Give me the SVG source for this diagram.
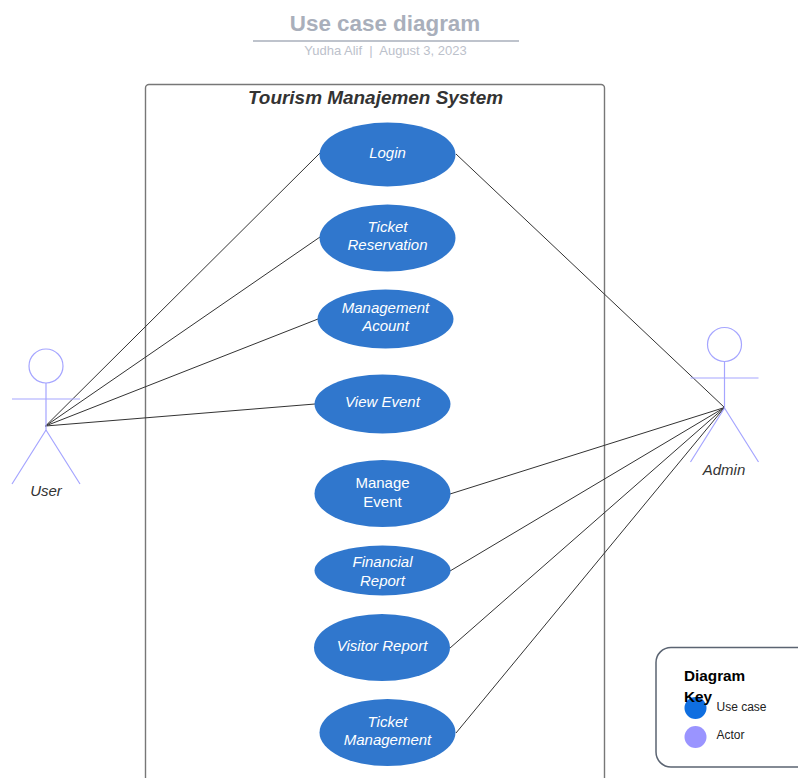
<svg xmlns="http://www.w3.org/2000/svg" width="798" height="778" viewBox="0 0 798 778">
<style>
text{font-family:"Liberation Sans",Arial,sans-serif}
.uc ellipse{fill:#3077cd}
.uc text{fill:#fff;font-size:15px;font-style:italic;text-anchor:middle}
.uc text.plain{font-style:normal}
.actor circle,.actor path{fill:none;stroke:#a5a5ff;stroke-width:1.2}
.actor text{fill:#333;font-size:15px;font-style:italic;text-anchor:middle}
#connectors line{stroke:#333;stroke-width:1}
</style>
<rect width="798" height="778" fill="#fff"/>
<g id="title">
<text x="385" y="30.500" font-size="22.400" font-weight="bold" fill="#a9afbb" text-anchor="middle">Use case diagram</text>
<line x1="253" y1="41" x2="519" y2="41" stroke="#a9afbb" stroke-width="1.5"/>
<text x="385.500" y="55" font-size="13" fill="#bcc1cb" text-anchor="middle" xml:space="preserve">Yudha Alif  |  August 3, 2023</text>
</g>
<g id="system">
<path d="M145.500 778V88a3.500 3.500 0 0 1 3.500-3.500H601a3.500 3.500 0 0 1 3.500 3.500V778" fill="none" stroke="#777" stroke-width="1.400"/>
<text x="375.500" y="104" font-size="18.950" font-weight="bold" font-style="italic" fill="#333" text-anchor="middle">Tourism Manajemen System</text>
</g>
<g id="connectors">
<line x1="45.500" y1="426" x2="320" y2="153"/>
<line x1="45.500" y1="426" x2="320" y2="237"/>
<line x1="45.500" y1="426" x2="318" y2="319"/>
<line x1="45.500" y1="426" x2="315" y2="404"/>
<line x1="724.500" y1="407.500" x2="456" y2="154"/>
<line x1="724.500" y1="407.500" x2="450" y2="494"/>
<line x1="724.500" y1="407.500" x2="450" y2="571"/>
<line x1="724.500" y1="407.500" x2="450" y2="648"/>
<line x1="724.500" y1="407.500" x2="456" y2="733"/>
</g>
<g id="login" class="uc"><ellipse cx="387.500" cy="154.500" rx="68" ry="32"/><text x="387.500" y="158">Login</text></g>
<g id="ticket-reservation" class="uc"><ellipse cx="387.500" cy="238" rx="68" ry="33.500"/><text x="387.500" y="232">Ticket</text><text x="387.500" y="250">Reservation</text></g>
<g id="management-acount" class="uc"><ellipse cx="385.500" cy="319" rx="68" ry="29.500"/><text x="385.500" y="313">Management</text><text x="385.500" y="331">Acount</text></g>
<g id="view-event" class="uc"><ellipse cx="382.500" cy="404" rx="68" ry="29.500"/><text x="382.500" y="407">View Event</text></g>
<g id="manage-event" class="uc"><ellipse cx="382.500" cy="493.500" rx="68" ry="33.500"/><text class="plain" x="382.500" y="488">Manage</text><text class="plain" x="382.500" y="507">Event</text></g>
<g id="financial-report" class="uc"><ellipse cx="382.500" cy="570.500" rx="68" ry="25"/><text x="382.500" y="567">Financial</text><text x="382.500" y="586">Report</text></g>
<g id="visitor-report" class="uc"><ellipse cx="382" cy="647.500" rx="68" ry="33.500"/><text x="382" y="650.500">Visitor Report</text></g>
<g id="ticket-management" class="uc"><ellipse cx="387.500" cy="732.500" rx="68" ry="33.500"/><text x="387.500" y="726.500">Ticket</text><text x="387.500" y="744.500">Management</text></g>
<g id="user" class="actor">
<circle cx="46" cy="366" r="17"/>
<path d="M46 383V430M12 399H80M46 430L12 484M46 430L80 484"/>
<text x="46" y="496">User</text>
</g>
<g id="admin" class="actor">
<circle cx="724.500" cy="344.500" r="17"/>
<path d="M724.500 361.500V408M690.500 378H758.500M724.500 408L690.500 462M724.500 408L758.500 462"/>
<text x="724" y="475">Admin</text>
</g>
<g id="legend">
<path d="M798 647.500H671a15 15 0 0 0-15 15V752a15 15 0 0 0 15 15H798" fill="#fff" stroke="#5b6472" stroke-width="1.500"/>
<text x="684" y="681" font-size="15.300" font-weight="bold" fill="#000">Diagram</text>
<circle cx="695.500" cy="708" r="11" fill="#0f6ee0"/>
<text x="684" y="702" font-size="15.300" font-weight="bold" fill="#000">Key</text>
<text x="716.500" y="711" font-size="12" fill="#222">Use case</text>
<circle cx="695.500" cy="737" r="11" fill="#9a94ff"/>
<text x="716.500" y="739" font-size="12" fill="#222">Actor</text>
</g>
</svg>
